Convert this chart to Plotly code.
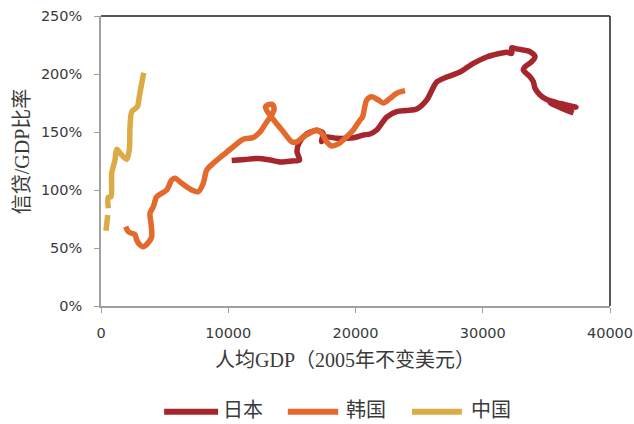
import plotly.graph_objects as go

# Per-capita GDP (constant 2005 USD) and credit/GDP ratio (%) paths
japan_gdp = [10272, 11316, 12338, 13281, 14146, 15010, 15600, 15403, 15561, 16165,
             16951, 17447, 17329, 17682, 18523, 19309, 19961, 20614, 21140, 21667,
             22452, 23238, 23969, 24810, 25596, 26382, 27168, 28212, 29258, 30311,
             30830, 31883, 32276, 32276, 32669, 33714, 34108, 33848, 33321, 33188,
             33714, 33974, 34108, 34500, 35027, 36071, 37330, 36230, 35287, 36071,
             37134]
japan_ratio = [125.4, 126.3, 127.2, 125.9, 124.1, 125.0, 125.9, 132.8, 140.5, 148.3,
               151.3, 149.1, 141.8, 145.7, 144.6, 144.6, 145.3, 147.4, 148.3, 151.7,
               162.9, 167.5, 168.5, 169.8, 177.6, 193.1, 197.4, 201.7, 209.2, 214.7,
               216.4, 218.7, 217.8, 222.7, 221.6, 219.2, 214.9, 210.6, 206.3, 203.4,
               197.7, 193.4, 187.7, 181.9, 178.0, 174.6, 171.3, 173.3, 175.4, 171.1,
               166.4]

korea_gdp = [1941, 2145, 2413, 2672, 2806, 3065, 3324, 3717, 3984, 3930,
             3851, 4110, 4377, 4770, 5163, 5556, 5816, 6342, 7128, 7647,
             8040, 8307, 8826, 9611, 10397, 11183, 11969, 12496, 13022, 13360,
             13596, 13517, 13202, 12928, 13045, 13360, 13753, 14327, 14987, 15380,
             15898, 16425, 16951, 17345, 17737, 18130, 18649, 19309, 19828, 20354,
             20551, 20881, 21274, 21792, 22185, 22712, 23238, 23891]
korea_ratio = [68.4, 64.1, 62.7, 61.6, 56.9, 52.6, 51.1, 54.6, 59.7, 71.3,
               79.9, 85.6, 94.2, 97.2, 100.0, 108.6, 110.1, 105.8, 100.0, 98.5,
               105.8, 117.2, 123.0, 130.2, 137.3, 143.7, 145.3, 150.0, 158.6, 163.8,
               169.0, 173.3, 173.7, 171.6, 168.1, 163.4, 157.8, 150.3, 141.6, 141.4,
               145.9, 149.1, 151.7, 148.9, 141.6, 137.9, 139.7, 145.9, 151.7, 160.3,
               162.9, 177.6, 180.4, 177.6, 175.0, 179.0, 183.4, 185.6]

china_gdp = [390, 530, None, 574, 574, 786, 841, 1100, 1234, 1627,
             2020, 2224, 2279, 2413, 2727, 2884, 3010, 3199, 3356]
china_ratio = [64.9, 78.4, None, 84.2, 93.7, 94.2, 114.4, 125.9, 135.1, 130.2,
               126.5, 134.5, 154.6, 167.5, 170.4, 172.4, 180.4, 192.0, 201.1]

series_names = ["日本", "韩国", "中国"]
series_colors = ["#A5262D", "#E4692C", "#DCAB45"]

x_ticks = [0, 10000, 20000, 30000, 40000]
y_ticks = [0, 50, 100, 150, 200, 250]
y_tick_text = ["0%", "50%", "100%", "150%", "200%", "250%"]

text_color = "#3a3a3a"
cjk_serif = "Liberation Serif, Noto Sans CJK SC"

fig = go.Figure()
for name, xs, ys, color in zip(series_names,
                               [japan_gdp, korea_gdp, china_gdp],
                               [japan_ratio, korea_ratio, china_ratio],
                               series_colors):
    fig.add_trace(go.Scatter(
        x=xs, y=ys, name=name, mode="lines",
        line=dict(color=color, width=5.5, shape="spline", smoothing=0.8),
        connectgaps=False, showlegend=False,
    ))

axis_font = dict(family="DejaVu Sans", size=14.5, color=text_color)

fig.update_xaxes(
    range=[0, 40000], tickvals=x_ticks, ticktext=[str(v) for v in x_ticks],
    showgrid=False, zeroline=False, showline=True, linecolor="#a0a0a0", linewidth=1.5,
    ticks="outside", ticklen=5, tickcolor="#a0a0a0", tickfont=axis_font,
    ticklabelstandoff=8, automargin=False,
)
fig.update_yaxes(
    range=[0, 250], tickvals=y_ticks, ticktext=y_tick_text,
    showgrid=False, zeroline=False, showline=True, linecolor="#a0a0a0", linewidth=1.5,
    ticks="outside", ticklen=5, tickcolor="#a0a0a0", tickfont=axis_font,
    ticklabelstandoff=9, automargin=False,
)

# dark frame along the top and right edges of the plot area
fig.add_shape(type="line", xref="paper", yref="paper", x0=0, x1=1, y0=1, y1=1,
              line=dict(color="#222222", width=1.5))
fig.add_shape(type="line", xref="paper", yref="paper", x0=1, x1=1, y0=0, y1=1,
              line=dict(color="#222222", width=1.5))

# axis titles
fig.add_annotation(text="人均GDP（2005年不变美元）", xref="paper", yref="paper",
                   x=0.479, y=-0.186, xanchor="center", yanchor="middle",
                   showarrow=False, font=dict(family=cjk_serif, size=20, color=text_color))
fig.add_annotation(text="信贷/GDP比率", xref="paper", yref="paper",
                   x=-0.155, y=0.534, xanchor="center", yanchor="middle", textangle=-90,
                   showarrow=False, font=dict(family=cjk_serif, size=20, color=text_color))

# legend row below the chart: swatch line followed by its label
legend_line_x = [(0.124, 0.230), (0.367, 0.466), (0.611, 0.709)]
legend_text_x = [0.236, 0.477, 0.723]
legend_y = -0.359
for name, color, (lx0, lx1), tx in zip(series_names, series_colors, legend_line_x, legend_text_x):
    fig.add_shape(type="line", xref="paper", yref="paper", x0=lx0, x1=lx1,
                  y0=legend_y - 0.006, y1=legend_y - 0.006, line=dict(color=color, width=6))
    fig.add_annotation(text=name, xref="paper", yref="paper", x=tx, y=legend_y,
                       xanchor="left", yanchor="middle", showarrow=False,
                       font=dict(family=cjk_serif, size=20, color=text_color))

fig.update_layout(
    width=634, height=424,
    margin=dict(l=101, r=24, t=16, b=118, autoexpand=False),
    plot_bgcolor="white", paper_bgcolor="white",
    showlegend=False,
)

fig.write_html("out.html")
